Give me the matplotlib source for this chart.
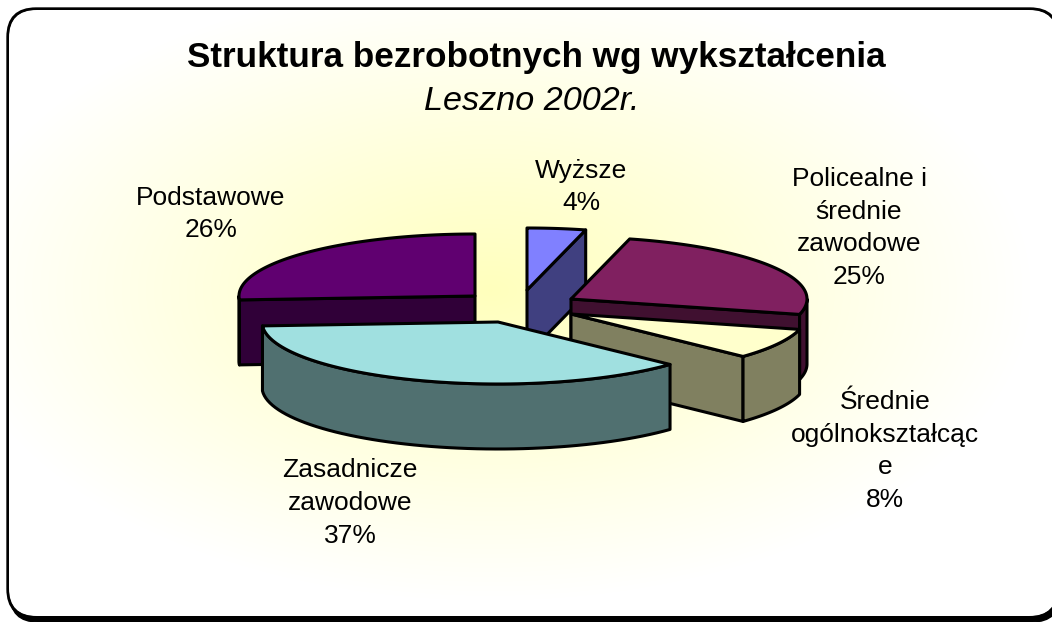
#!/usr/bin/env python

import numpy as np
import matplotlib
matplotlib.use("Agg")
import matplotlib.pyplot as plt
from matplotlib.patches import FancyBboxPatch, Polygon

plt.rcParams['font.family'] = ['Liberation Sans', 'DejaVu Sans']

# data, clockwise from 12 o'clock
labels = ["Wyższe", "Policealne i\nśrednie\nzawodowe", "Średnie\nogólnokształcąc\ne",
          "Zasadnicze\nzawodowe", "Podstawowe"]
shares = [4, 25, 8, 37, 26]

# pie geometry in pixels
centers = [(527, 290), (571, 299), (571, 314), (498, 322), (475, 296)]
label_pos = [(581, 187), (859, 228), (885, 451), (350, 503), (211, 214)]
top_cols = ["#8080ff", "#802060", "#ffffcc", "#a0e0e0", "#600070"]
side_cols = ["#404080", "#401030", "#808060", "#507070", "#300038"]
draw_order = [0, 4, 1, 2, 3]
rx, ry = 236, 62
depth = 65

fig = plt.figure(figsize=(10.52, 6.22), dpi=100)
ax = fig.add_axes([0, 0, 1, 1])
ax.axis("off")

# frame with soft yellow gradient, black shadow below it
box = "round,pad=0,rounding_size=28"
shadow = FancyBboxPatch((10, 14), 1050, 608, boxstyle=box, fc="black", ec="black", lw=1, zorder=0.9)
ax.add_patch(shadow)
frame = FancyBboxPatch((8, 9), 1050, 608, boxstyle=box, fc="white", ec="black", lw=2.4, zorder=1)
ax.add_patch(frame)
xx, yy = np.meshgrid(np.arange(1052), np.arange(622))
dist = np.sqrt(((xx - 490) / 540.0)**2 + ((yy - 290) / 310.0)**2)
t = np.clip(dist, 0, 1)[..., None]
grad = np.array([1, 1, 0.74]) * (1 - t) + np.array([1, 1, 1]) * t
im = ax.imshow(grad, extent=(0, 1052, 622, 0), aspect="auto", zorder=1.1)
im.set_clip_path(FancyBboxPatch((9, 10), 1048, 606, boxstyle=box, transform=ax.transData))
ax.set_xlim(0, 1052)
ax.set_ylim(622, 0)

def pt(c, ang):
    return c[0] + rx * np.sin(ang), c[1] - ry * np.cos(ang)

def face(xy, col, z):
    ax.add_patch(Polygon(xy, closed=True, fc=col, ec="black", lw=2.2, joinstyle="round", zorder=z))

edges = np.radians(np.cumsum([0] + shares) * 3.6)
z = 2
for i in draw_order:
    c = centers[i]
    a0, a1 = edges[i], edges[i + 1]
    tip = c
    # radial faces towards the viewer
    for ang, show in ((a0, np.sin(a0) < -1e-6), (a1, np.sin(a1) > 1e-6)):
        if show:
            p = pt(c, ang)
            face([tip, p, (p[0], p[1] + depth), (tip[0], tip[1] + depth)], side_cols[i], z)
            z += 1
    # outer wall, lower half of the ellipse only
    lo, hi = max(a0, np.pi / 2), min(a1, 3 * np.pi / 2)
    if hi > lo:
        arc = np.linspace(lo, hi, 60)
        px, py = pt(c, arc)
        face(np.r_[np.c_[px, py], np.c_[px, py + depth][::-1]], side_cols[i], z)
        z += 1
    # top face
    arc = np.linspace(a0, a1, 80)
    px, py = pt(c, arc)
    face(np.r_[[tip], np.c_[px, py]], top_cols[i], z)
    z += 1

for lab, val, pos in zip(labels, shares, label_pos):
    ax.text(pos[0], pos[1], lab + "\n%d%%" % val, ha="center", va="center", fontsize=19,
            linespacing=1.46, color="black", zorder=50)

ax.text(536, 58, "Struktura bezrobotnych wg wykształcenia", ha="center", va="center",
        fontsize=25.3, fontweight="bold", zorder=50)
ax.text(532, 102, "Leszno 2002r.", ha="center", va="center", fontsize=24.6, style="italic", zorder=50)

fig.savefig("out.png", dpi=100)
